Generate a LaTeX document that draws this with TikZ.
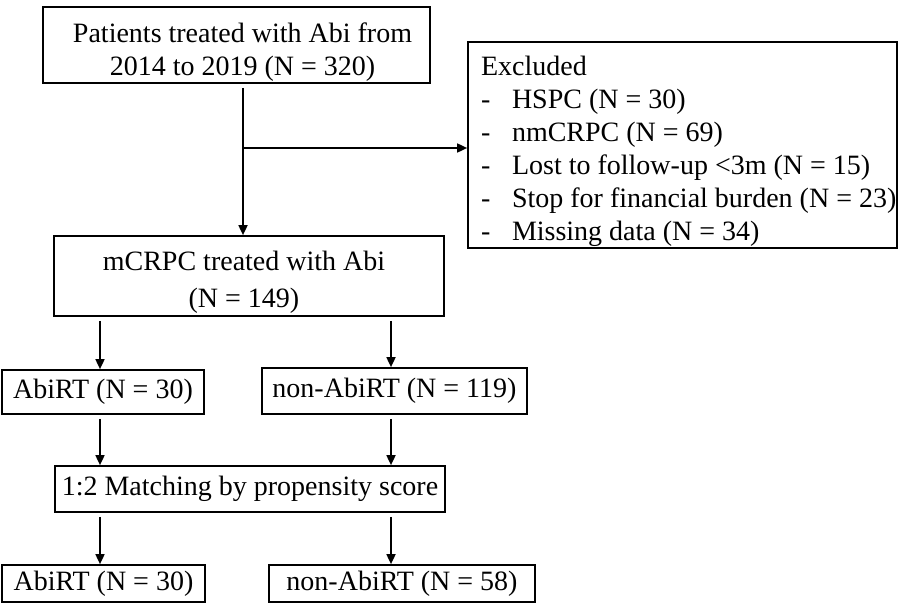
\documentclass[tikz,border=0pt]{standalone}
\usepackage{fontspec}
\setmainfont{Liberation Serif}
\usetikzlibrary{arrows.meta}
\newcommand{\exline}[1]{\mbox{\makebox[15.5pt][l]{-}#1}}
\begin{document}
\begin{tikzpicture}[
        x=0.5pt, y=-0.5pt,
        box/.style={draw,line width=0.85pt,inner sep=0pt,align=center,
            font=\fontsize{14}{16.5}\selectfont},
        arr/.style={-{Triangle[length=5pt,width=4.5pt]},line width=0.85pt,shorten <=2pt}
    ]
    \useasboundingbox (0,0) rectangle (904,604);

    % text in the two upper boxes sits off centre, as in the original
    \node[box,minimum width=193.5pt,minimum height=38pt] (start) at (236.5,45)
        {\hspace*{6pt}\rule{0pt}{16.6pt}Patients treated with Abi from\\\hspace*{6pt}2014 to 2019 (N = 320)};
    \node[box,align=flush left,text width=201.5pt,inner xsep=6.5pt,minimum height=103pt] (excl) at (682.5,145)
        {\rule{0pt}{15.6pt}Excluded\\
         \exline{HSPC (N = 30)}\\
         \exline{nmCRPC (N = 69)}\\
         \exline{Lost to follow-up <3m (N = 15)}\\
         \exline{Stop for financial burden (N = 23)}\\
         \exline{Missing data (N = 34)}};
    \node[box,minimum width=195pt,minimum height=40pt] (mcrpc) at (249,276)
        {\rule{0pt}{16pt}mCRPC treated with Abi\hspace*{5pt}\\[2pt](N = 149)\hspace*{5pt}};
    \node[box,minimum width=101pt,minimum height=22pt] (abi1) at (103,392) {AbiRT (N = 30)};
    \node[box,minimum width=132.5pt,minimum height=23pt] (non1) at (394.5,391) {non-AbiRT (N = 119)};
    \node[box,minimum width=195pt,minimum height=23pt] (match) at (250,489) {1:2 Matching by propensity score};
    \node[box,minimum width=101.5pt,minimum height=18.5pt] (abi2) at (103.5,583.5) {AbiRT (N = 30)};
    \node[box,minimum width=133pt,minimum height=18.5pt] (non2) at (402,583.5) {non-AbiRT (N = 58)};

    \coordinate (split) at (243,148);
    \draw[arr] (start.south -| split) -- (mcrpc.north -| split);
    \draw[arr,shorten <=0pt] (split) -- (excl.west |- split);

    \draw[arr] (mcrpc.south -| 100,0) -- (abi1.north -| 100,0);
    \draw[arr] (mcrpc.south -| 391,0) -- (non1.north -| 391,0);
    \draw[arr] (abi1.south -| 100,0) -- (match.north -| 100,0);
    \draw[arr] (non1.south -| 391,0) -- (match.north -| 391,0);
    \draw[arr] (match.south -| 100,0) -- (abi2.north -| 100,0);
    \draw[arr] (match.south -| 391,0) -- (non2.north -| 391,0);
\end{tikzpicture}
\end{document}
